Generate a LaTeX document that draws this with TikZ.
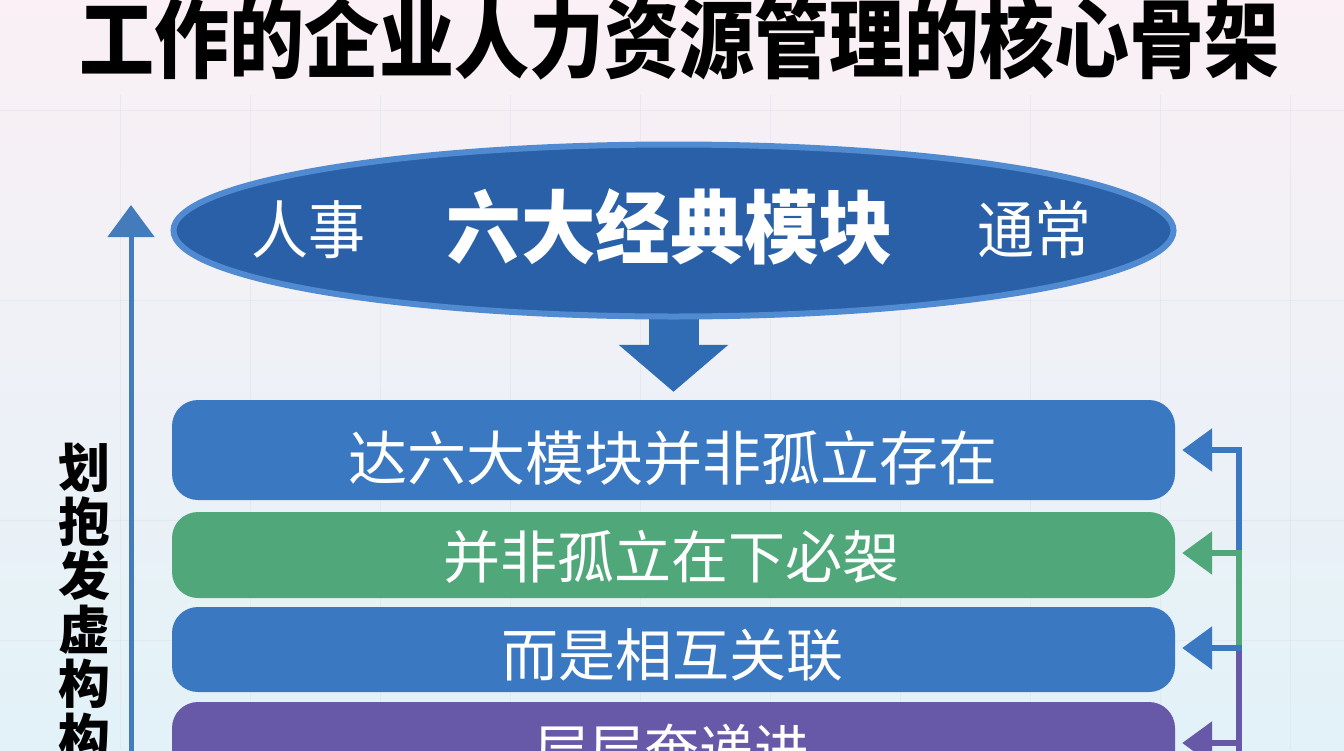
\documentclass[tikz,border=0pt]{standalone}
\usepackage{fontspec}
\newfontfamily\cjk{Noto Sans CJK SC}
\usetikzlibrary{shapes.geometric,arrows.meta}
\definecolor{bgtop}{RGB}{250,240,245}
\definecolor{bgbot}{RGB}{226,242,248}
\definecolor{ellfill}{RGB}{42,96,168}
\definecolor{elldraw}{RGB}{80,138,208}
\definecolor{barblue}{RGB}{58,120,194}
\definecolor{bargreen}{RGB}{80,168,122}
\definecolor{barpurple}{RGB}{104,88,168}
\definecolor{arrblue}{RGB}{47,108,180}
\definecolor{gridc}{RGB}{225,225,235}
\tikzset{
  bar/.style={rounded corners=26pt, minimum width=1003pt, inner sep=0pt},
  bartext/.style={text=white, font=\cjk\fontsize{57}{57}\selectfont, inner sep=0pt},
  conn/.style={line width=6pt},
  tip/.style={-{Triangle[width=42pt,length=30pt]}, shorten >=7pt}
}
\begin{document}
\begin{tikzpicture}[x=1pt,y=-1pt]
\useasboundingbox (0,0) rectangle (1344,750);
\clip (0,0) rectangle (1344,750);
\shade[top color=bgtop, bottom color=bgbot] (0,0) rectangle (1344,750);
% faint background grid
\foreach \x in {120,250,380,510,640,770,900,1030,1160,1290}
  \draw[gridc, line width=1pt, opacity=0.6] (\x,95) -- (\x,750);
\foreach \y in {110,300,520,640}
  \draw[gridc, line width=1pt, opacity=0.6] (0,\y) -- (1344,\y);

% title
\node[font=\cjk\bfseries\fontsize{75}{75}\selectfont, inner sep=0pt] (title) at (679,38) {\scalebox{1}[1.15]{工作的企业人力资源管理的核心骨架}};

% bars
\node[bar, fill=barblue, minimum height=100pt] (b1) at (673.5,450) {};
\node[bar, fill=bargreen, minimum height=86pt] (b2) at (673.5,555) {};
\node[bar, fill=barblue, minimum height=85pt] (b3) at (673.5,649.5) {};
\node[bar, fill=barpurple, minimum height=110pt] (b4) at (673.5,757) {};
\node[bartext, font=\cjk\fontsize{59}{59}\selectfont] (t1) at (673,458) {达六大模块并非孤立存在};
\node[bartext] (t2) at (671,557) {并非孤立在下必袈};
\node[bartext] (t3) at (672,655) {而是相互关联};
\node[bartext, font=\cjk\fontsize{55}{55}\selectfont] (t4) at (672,750) {层层奄递进};

% down arrow
\node[ellipse, minimum width=1003pt, minimum height=175pt, inner sep=0pt] (ellpos) at (673.5,230.5) {};
\draw[arrblue, line width=50pt, -{Triangle[width=107pt,length=47pt]}, shorten >=8pt] (ellpos.center) -- (b1.north);

% ellipse
\node[ellipse, fill=ellfill, draw=elldraw, line width=6pt, minimum width=1000pt, minimum height=172pt, inner sep=0pt] (ell) at (673.5,230.5) {};
\node[text=white, font=\cjk\fontsize{60}{60}\selectfont, inner sep=0pt] (rs) at (308,230) {\scalebox{0.95}[1.05]{人事}};
\node[text=white, font=\cjk\bfseries\fontsize{76}{76}\selectfont, inner sep=0pt] (main) at (670,227) {\scalebox{0.98}[1.05]{六大经典模块}};
\node[text=white, font=\cjk\fontsize{60}{60}\selectfont, inner sep=0pt] (tc) at (1034,230) {\scalebox{0.95}[1.05]{通常}};

% left arrow
\coordinate (lb) at (131,760);
\coordinate (lt) at (131,205);
\draw[arrblue!90!white, line width=5pt, -{Triangle[width=46pt,length=32pt]}] (lb) -- (lt);
\node[font=\cjk\bfseries\fontsize{52}{54}\selectfont, inner sep=0pt, align=center, anchor=north] (lefttext) at (84,443) {划\\抱\\发\\虚\\构\\构};

% right connectors
\coordinate (r1) at (1239,450);
\coordinate (r2) at (1239,553);
\coordinate (r3) at (1239,648);
\coordinate (r4) at (1239,743);
\coordinate (rb) at (1239,760);
\draw[conn, barblue] ([yshift=-3pt]r1) -- (r2);
\draw[conn, bargreen] (r2) -- (r3);
\draw[conn, barpurple] (r3) -- (rb);
\draw[conn, barblue, tip] ([xshift=3pt]r1) -- (r1 -| b1.east);
\draw[conn, bargreen, tip] ([xshift=3pt]r2) -- (r2 -| b2.east);
\draw[conn, barblue, tip] ([xshift=3pt]r3) -- (r3 -| b3.east);
\draw[conn, barpurple, tip] ([xshift=3pt]r4) -- (r4 -| b4.east);
\end{tikzpicture}
\end{document}
